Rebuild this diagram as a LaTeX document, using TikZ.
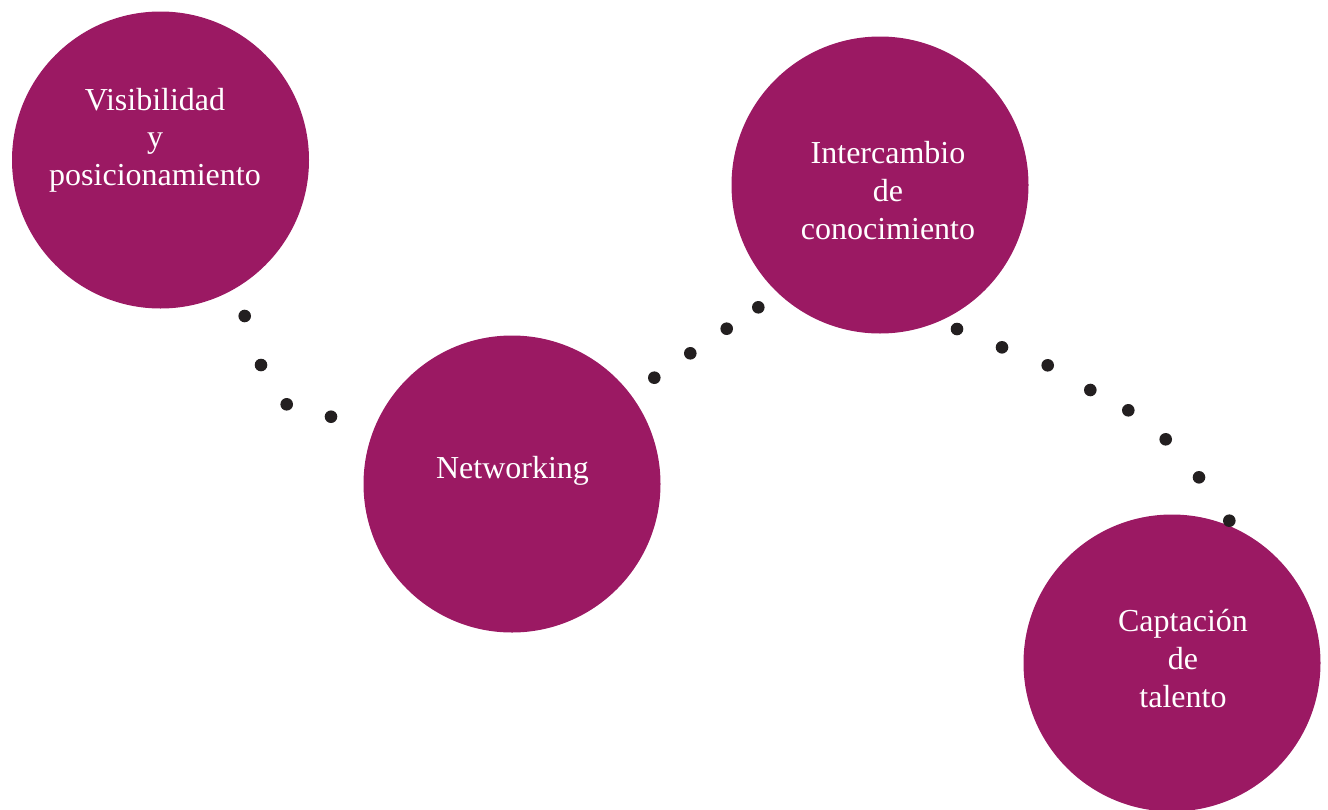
\documentclass[tikz,border=0pt]{standalone}
\usepackage{fontspec}
\setmainfont{Liberation Serif}
\definecolor{plum}{HTML}{9B1963}
\definecolor{dotc}{HTML}{231F20}
\tikzset{
  bubble/.style={circle, fill=plum, draw=none, minimum size=297pt, inner sep=0pt},
  lbl/.style={text=white, align=center, anchor=base, font=\fontsize{32}{37.7}\selectfont, inner sep=0pt},
  dotmark/.style={fill=dotc}
}
\begin{document}
\begin{tikzpicture}[x=1pt,y=-1pt]
\useasboundingbox (0,0) rectangle (1328,809);
\node[bubble] (vis) at (160.5,160) {};
\node[bubble] (net) at (512,484) {};
\node[bubble] (int) at (880,185) {};
\node[bubble] (cap) at (1172,663) {};
% anchor=base of a multi-line node is the baseline of its last line
\node[lbl] (tvis) at (155,185.5) {Visibilidad\\y\\posicionamiento};
\node[lbl] (tnet) at (512.5,478) {Networking};
\node[lbl] (tint) at (888,239) {Intercambio\\de\\conocimiento};
\node[lbl] (tcap) at (1183,707) {Captación\\de\\talento};
\foreach \p in {(244.7,316),(261,365),(286.7,404.3),(331,416.7),
  (654.3,377.7),(690.3,353.3),(726.7,328.7),(758.3,307.3),
  (957,329),(1002,347.3),(1047.7,365.3),(1090.3,390),(1128.3,410.3),(1165.7,439.3),(1199,477.3),(1229.3,520.7)}
  \fill[dotmark] \p circle (6.3);
\end{tikzpicture}
\end{document}
